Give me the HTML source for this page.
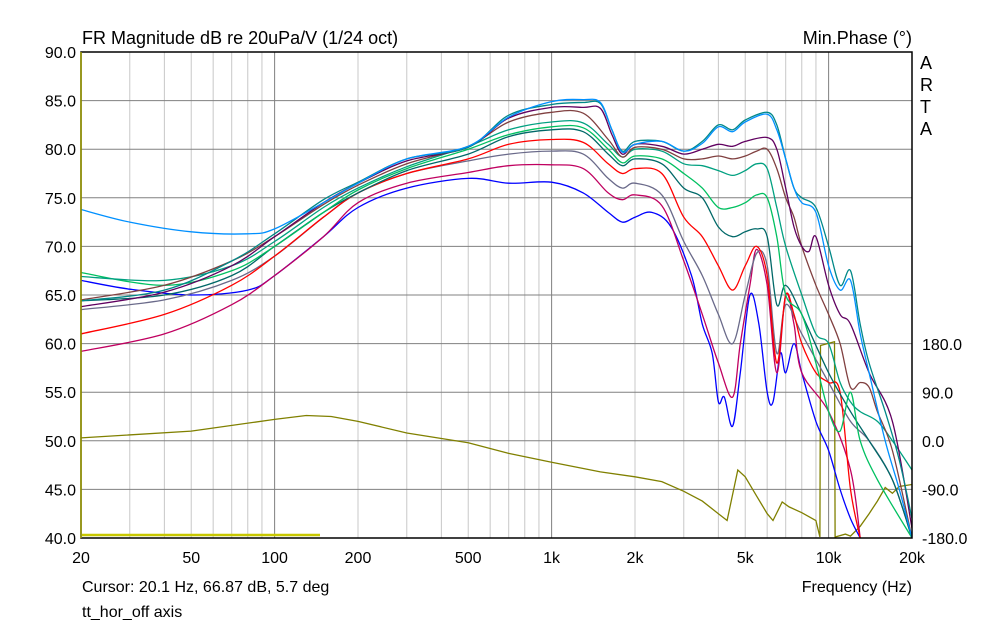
<!DOCTYPE html>
<html><head><meta charset="utf-8"><style>
body{margin:0;background:#fff;font-family:"Liberation Sans",Arial,sans-serif;}
svg text{font-family:"Liberation Sans",Arial,sans-serif;font-size:16px;fill:#000;}
</style></head><body>
<svg id="s" width="994" height="626" xmlns="http://www.w3.org/2000/svg">
<defs><clipPath id="cp"><rect x="81" y="52" width="831" height="486"/></clipPath></defs>
<rect width="994" height="626" fill="#fff"/>
<g id="grid"></g>
<g id="curves" fill="none" stroke-width="1.3" clip-path="url(#cp)"></g>
<rect x="81" y="52" width="831" height="486" fill="none" stroke="#000" stroke-width="1.5"/>
<line x1="81" y1="52" x2="81" y2="538" stroke="#a0a000" stroke-width="1.5"/>
<text x="82" y="44" style="font-size:18px">FR Magnitude dB re 20uPa/V (1/24 oct)</text>
<text x="912" y="44" text-anchor="end" style="font-size:18px">Min.Phase (°)</text>
<text x="920" y="69" style="font-size:18px">A</text>
<text x="920" y="91" style="font-size:18px">R</text>
<text x="920" y="113" style="font-size:18px">T</text>
<text x="920" y="135" style="font-size:18px">A</text>
<g id="labels"></g>
<text x="82" y="592">Cursor: 20.1 Hz, 66.87 dB, 5.7 deg</text>
<text x="82" y="617">tt_hor_off axis</text>
<text x="912" y="592" text-anchor="end">Frequency (Hz)</text>
</svg>
<script>
var NS="http://www.w3.org/2000/svg";
function X(f){return 81+277*Math.log10(f/20);}
function Y(d){return 52+(90-d)*9.72;}
function el(p,t,a,txt){var e=document.createElementNS(NS,t);for(var k in a)e.setAttribute(k,a[k]);if(txt!==undefined)e.textContent=txt;p.appendChild(e);return e;}
var g=document.getElementById('grid'),L=document.getElementById('labels');
for(var dec=10;dec<=10000;dec*=10)for(var m=1;m<=9;m++){var f=dec*m;if(f<=20||f>=20000)continue;
 var major=(m==1);el(g,'line',{x1:X(f),x2:X(f),y1:52,y2:538,stroke:major?'#808080':'#c8c8c8','stroke-width':1});}
for(var d=45;d<90;d+=5)el(g,'line',{x1:81,x2:912,y1:Y(d),y2:Y(d),stroke:'#808080','stroke-width':1});
for(var d=40;d<=90;d+=5)el(L,'text',{x:76,y:Y(d)+6,'text-anchor':'end'},d.toFixed(1));
[[20,'20'],[50,'50'],[100,'100'],[200,'200'],[500,'500'],[1000,'1k'],[2000,'2k'],[5000,'5k'],[10000,'10k'],[20000,'20k']].forEach(function(a){el(L,'text',{x:X(a[0]),y:563,'text-anchor':'middle'},a[1]);});
[[180,'180.0'],[90,'90.0'],[0,'0.0'],[-90,'-90.0'],[-180,'-180.0']].forEach(function(a){el(L,'text',{x:922,y:441-a[0]*48.6/90+6},a[1]);});
var C=document.getElementById('curves');
function P(col,arr,smooth){var pts=[];for(var i=0;i<arr.length;i+=2)pts.push([X(arr[i]),Y(Math.max(39.5,arr[i+1]))]);
 var s='M'+pts[0][0].toFixed(1)+' '+pts[0][1].toFixed(1);
 for(var i=1;i<pts.length;i++){
  if(!smooth){s+='L'+pts[i][0].toFixed(1)+' '+pts[i][1].toFixed(1);continue;}
  var p0=pts[Math.max(0,i-2)],p1=pts[i-1],p2=pts[i],p3=pts[Math.min(pts.length-1,i+1)];
  var c1x=p1[0]+(p2[0]-p0[0])/6,c1y=p1[1]+(p2[1]-p0[1])/6,c2x=p2[0]-(p3[0]-p1[0])/6,c2y=p2[1]-(p3[1]-p1[1])/6;
  s+='C'+c1x.toFixed(1)+' '+c1y.toFixed(1)+' '+c2x.toFixed(1)+' '+c2y.toFixed(1)+' '+p2[0].toFixed(1)+' '+p2[1].toFixed(1);}
 el(C,'path',{d:s,stroke:col});}
P('#808000',[20,50.3,50,51,100,52.2,130,52.6,160,52.5,200,52,300,50.8,500,49.8,700,48.7,1000,47.8,1500,46.8,2000,46.3,2500,45.8,3000,44.8,3500,43.8,4000,42.5,4300,41.8,4700,47,5000,46.3,5500,44.3,6000,42.5,6300,41.8,6800,43.7,7200,43.2,8000,42.6,9000,41.8,9300,40.1,9350,59.8,10500,60.2,10550,40.1,11500,40.4,12000,40.2,13000,41.2,14000,42.5,15000,43.8,16000,45.2,17000,44.6,18000,45.3,20000,45.5],false);
el(C,'line',{x1:82,x2:320,y1:535,y2:535,stroke:'#c8c800','stroke-width':2.5});
P('#0000ff',[20,66.5,30,65.6,50,65,80,65.5,100,67,150,71,200,74,300,76,500,77,700,76.5,1000,76.6,1300,75.5,1600,73.5,1800,72.5,2000,73,2300,73.5,2700,72,3200,67,3500,62,3800,59,4000,54,4200,54.5,4500,51.5,4800,57,5200,65,5600,62,6000,55,6300,54,6700,59,7000,57,7500,60,8000,57,9000,52,10000,49,11000,45,12000,42,13000,40],true);
P('#c00060',[20,59.2,40,61,70,64,100,67,150,71,200,74.5,300,76.5,500,77.6,700,78.3,1000,78.4,1300,78,1600,75.5,1800,74.8,2000,75.3,2500,74.2,3000,68.5,3500,63,4000,58,4500,54.5,4800,60,5200,66,5500,69.7,6000,66,6500,57,7000,65,7500,62,8000,57,10000,53,12000,47,13000,40],true);
P('#6a6a8a',[20,63.5,40,64.5,70,66.5,100,69,150,73,200,75.5,300,77.5,500,78.8,700,79.5,1000,79.8,1300,79.5,1600,77,1800,76,2000,76.5,2500,75.3,3000,70.5,3500,67,4000,63,4500,60,5000,65,5500,69.3,6000,68,6500,59,7000,64,8000,61,10000,56,12000,52,14000,50,17000,46,20000,40],true);
P('#ff0000',[20,61,40,63,70,66,100,69,150,73,200,75.5,300,77.5,500,79,700,80.5,1000,81,1300,80.7,1600,78.5,1800,77.5,2000,78,2500,77.5,3000,73,3500,71,4000,68,4500,65.5,5000,68,5500,70,6000,67,6500,58,7000,65,7500,63,8000,60,9000,57,10000,56,11000,55,12000,45,13000,40],true);
P('#006868',[20,64.4,40,65,70,67,100,70,150,73.5,200,75.5,300,77.8,500,79.5,700,81.3,1000,82,1300,81.8,1600,79.5,1800,78.3,2000,79,2500,78.5,3000,76,3500,75,4000,72,4500,71,5000,71.5,5500,71.8,6000,71,6500,64,7000,66,8000,63,10000,57,12000,53,14000,50,17000,46,20000,40],true);
P('#00c060',[20,67.3,40,66,70,67.5,100,70,150,73.5,200,75.8,300,78,500,80,700,81.5,1000,82.3,1300,82.2,1600,80,1800,78.6,2000,79.3,2500,79,3000,77.5,3500,76,4000,74,4500,74,5000,74.5,5500,75.3,6000,75,6500,71,7000,65,8000,63,9000,58,10000,53,11000,51,12000,55,13000,50,15000,46,20000,40],true);
P('#00a080',[20,66.9,40,66.5,70,68,100,70.5,150,74,200,76,300,78.2,500,80.3,700,82,1000,82.8,1300,82.7,1600,80.5,1800,79.2,2000,80,2500,79.8,3000,78.5,3500,78.3,4000,77.8,4500,77.3,5000,77.8,5500,78.5,6000,78,6500,74,7000,70,8000,65,9000,61,10000,60,11000,56,12000,54,13000,53,15000,52,17000,50,20000,47],true);
P('#804040',[20,64.5,40,66,70,68.5,100,71,150,74.3,200,76.3,300,78.5,500,80.3,700,82.8,1000,83.8,1300,83.7,1600,81,1800,79.2,2000,80.2,2500,80,3000,79,3500,79,4000,79.3,4500,79,5000,79.3,5500,79.8,6000,80,6500,78,7000,75,7500,73,8000,70,9000,66,10000,63,11000,60,12000,55.5,13000,56,14000,55.5,15000,53,17000,49,20000,40],true);
P('#600060',[20,63.8,40,65.3,70,68,100,71,150,74.5,200,76.5,300,78.8,500,80.2,700,83.2,1000,84.3,1300,84.3,1500,84.2,1650,81.5,1800,79.5,2000,80.5,2500,80.3,3000,79.5,3500,80,4000,80.5,4500,80.3,5000,80.8,6000,81.2,6500,80,7000,76,7500,72,8000,70,8500,69.5,9000,71,10000,66,11000,63,12000,62,14000,57,17000,52,20000,41],true);
P('#008888',[20,64.4,40,65.5,70,68.5,100,71.3,150,74.8,200,76.6,300,79,500,80.2,700,83.5,1000,84.6,1300,84.8,1500,84.7,1650,82,1800,79.8,2000,80.8,2500,80.8,3000,79.8,3500,80.8,4000,82.5,4500,82,5000,83,6000,83.8,6500,82.5,7000,79,7500,76,8000,75,9000,74,10000,70,11000,66,12000,67.5,13000,62,14000,58,16000,53,18000,48,20000,42],true);
P('#0090ff',[20,73.8,30,72.5,50,71.5,80,71.3,100,71.8,150,74.5,200,76.5,300,79,500,80.3,700,83.3,1000,84.9,1300,85.1,1500,84.8,1650,82,1800,79.7,2000,80.5,2500,80.8,3000,79.8,3500,80.6,4000,82.3,4500,81.8,5000,82.8,6000,83.6,6500,82,7000,79,7500,76,8000,74.5,9000,73.5,10000,68,11000,65.5,12000,66.5,13000,61,14000,57,16000,50,18000,45,20000,40],true);
</script>
</body></html>
